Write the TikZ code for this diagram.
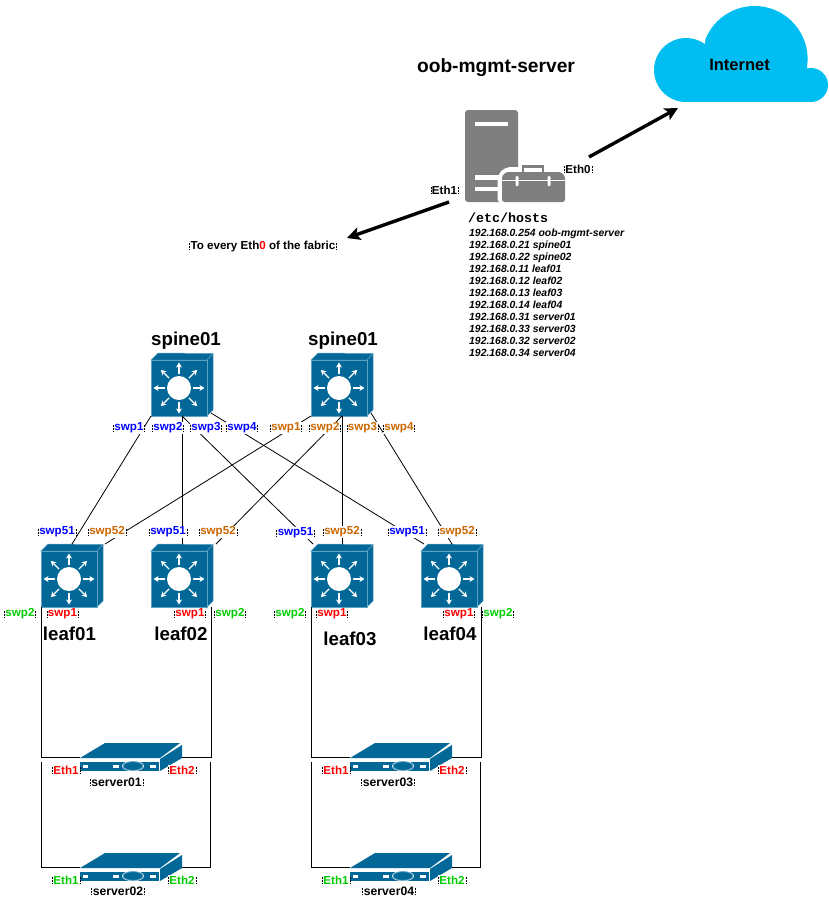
\documentclass[tikz,border=0pt]{standalone}
\usepackage{fontspec}
\setmainfont{Liberation Sans}
\newfontfamily\hostmono{Liberation Mono}
\usetikzlibrary{arrows.meta,calc}
\definecolor{netblue}{HTML}{036897}
\definecolor{edgeblue}{HTML}{5FA3C4}
\definecolor{cloudblue}{HTML}{00BEF2}
\definecolor{icongray}{HTML}{7F7F7F}
\definecolor{lblblue}{HTML}{0000FF}
\definecolor{lblorange}{HTML}{CC6600}
\definecolor{lblred}{HTML}{FF0000}
\definecolor{lblgreen}{HTML}{00CC00}
\tikzset{
  wire/.style={draw=black,line width=0.8pt},
  uplink/.style={draw=black,line width=3.4pt,-{Stealth[length=13pt,width=13pt,inset=3pt]}},
  hit/.style={inner sep=0pt,outer sep=0pt,draw=none},
  lbl/.style={font=\fontsize{11.6}{13}\selectfont\bfseries,fill=white,inner xsep=1pt,inner ysep=0.5pt,yshift=-1pt,
    append after command={
      ($(\tikzlastnode.west)+(0,-3)$) edge[draw=black,densely dotted,line width=.45pt] ($(\tikzlastnode.west)+(0,3)$)
      ($(\tikzlastnode.east)+(0,-3)$) edge[draw=black,densely dotted,line width=.45pt] ($(\tikzlastnode.east)+(0,3)$)}},
  bl/.style={lbl,text=lblblue},
  or/.style={lbl,text=lblorange},
  rd/.style={lbl,text=lblred},
  gr/.style={lbl,text=lblgreen},
  bk/.style={lbl,text=black},
  title/.style={font=\fontsize{18.7}{20}\selectfont\bfseries,text=black,inner sep=1pt,yshift=-1pt},
  srvname/.style={lbl,text=black,font=\fontsize{12.2}{14}\selectfont\bfseries},
}
\newcommand{\switchicon}[3]{% name, front-left x, front-top y
  \node[hit,minimum width=62pt,minimum height=63pt] (#1) at (#2+31,#3+24.5) {};
  \begin{scope}[shift={(#2,#3)}]
    \fill[netblue,draw=edgeblue,line width=.5pt] (0,0) -- (7,-7) -- (62,-6.5) -- (56,0) -- cycle;
    \fill[netblue,draw=edgeblue,line width=.5pt] (56,0) -- (62,-6.5) -- (62,50) -- (56,56) -- cycle;
    \fill[netblue,draw=edgeblue,line width=.6pt] (0,0) rectangle (56,56);
    \fill[white] (28,28) circle (12);
    \begin{scope}[shift={(28,28)}]
      \foreach \a in {0,45,...,315}
        \draw[white,line width=1.3pt,-{Stealth[length=5pt,width=6pt]}] (\a:14) -- (\a:25.5);
    \end{scope}
  \end{scope}
}
\newcommand{\servericon}[3]{% name, left x, top y
  \node[hit,minimum width=102pt,minimum height=28pt] (#1) at (#2+51,#3+14) {};
  \begin{scope}[shift={(#2,#3)}]
    \fill[netblue] (0,15) -- (25,0) -- (100,0) -- (80,15) -- cycle;
    \fill[netblue] (80,16) -- (102,2) -- (102,15) -- (80,28) -- cycle;
    \fill[netblue] (0,19) rectangle (79,28);
    \fill[white] (3,22) rectangle (8,25);
    \fill[white] (33,22) rectangle (39,25);
    \fill[white] (70,22) rectangle (76,25);
    \fill[white] (53,23) ellipse (11 and 5.2);
    \fill[netblue,draw=edgeblue,line width=.8pt] (53,23) ellipse (10 and 4.4);
  \end{scope}
}
\begin{document}
\begin{tikzpicture}[x=1pt,y=-1pt]
\useasboundingbox (0,0) rectangle (829,903);
% cloud
\fill[cloudblue] (686,70) circle (32);
\fill[cloudblue] (811,85) circle (17);
\fill[cloudblue] (686,70) rectangle (811,102);
\fill[cloudblue] (807,67) arc[start angle=8.7,end angle=-158,radius=53] -- (700,90) -- (807,90) -- cycle;
\node[hit,minimum width=174pt,minimum height=96pt] (inet) at (741,54) {};
\node[font=\fontsize{16.5}{18}\selectfont\bfseries,inner sep=0] at (739.5,65) {Internet};
% oob server icon
\node[hit,minimum width=100pt,minimum height=92pt] (oob) at (515,156) {};
\fill[icongray,rounded corners=3pt] (465,202) -- (465,110) -- (518,110) -- (518,202) -- cycle;
\fill[white] (475,122) rectangle (508,126);
\fill[white] (475,175) rectangle (500,180);
\fill[white] (475,187) rectangle (500,191);
\fill[white,rounded corners=6pt] (497.5,204) -- (497.5,175) -- (505,167) -- (570,167) -- (570,204) -- cycle;
\draw[icongray,line width=2.5pt] (523,172) -- (523,166.5) -- (543,166.5) -- (543,172);
\fill[icongray,rounded corners=2.5pt] (502,202) -- (502,176) -- (506,172) -- (561,172) -- (565,176) -- (565,202) -- cycle;
\fill[white] (502,179.5) rectangle (565,181);
\fill[white,rounded corners=1pt] (515.5,176) rectangle (518.5,186);
\fill[white,rounded corners=1pt] (547.5,176) rectangle (550.5,186);
% coordinates of free connector ends
\coordinate (oobout) at (589,157);
\coordinate (inetin) at (678,108);
\coordinate (oobfab) at (449,202);
\coordinate (fabric) at (347,238);
\draw[uplink] (oobout) -- (inetin);
\draw[uplink] (oobfab) -- (fabric);
% switches
\switchicon{sp1}{151}{360}
\switchicon{sp2}{311}{360}
\switchicon{lf1}{41}{551}
\switchicon{lf2}{151}{551}
\switchicon{lf3}{311}{551}
\switchicon{lf4}{421}{551}
% servers
\servericon{sv1}{80}{743}
\servericon{sv2}{80}{853}
\servericon{sv3}{350}{743}
\servericon{sv4}{350}{853}
% fabric links
\draw[wire] (sp1.south west) -- (lf1.north);
\draw[wire] (sp1.south) -- (lf2.north);
\draw[wire] (sp1.south) -- ([xshift=2]lf3.north west);
\draw[wire] ([shift={(-2,-3)}]sp1.south east) -- ([xshift=3]lf4.north west);
\draw[wire] (sp2.south west) -- ([xshift=2]lf1.north east);
\draw[wire] (sp2.south) -- ([xshift=3]lf2.north east);
\draw[wire] (sp2.south) -- (lf3.north);
\draw[wire] ([shift={(-2,-3)}]sp2.south east) -- (lf4.north);
% server links
\coordinate (sv1l) at (41,762);
\coordinate (sv1r) at (210,762);
\coordinate (sv3l) at (311,762);
\coordinate (sv3r) at (480,762);
\draw[wire] (lf1.south west) |- (sv1.west);
\draw[wire] ([xshift=-2]lf2.south east) |- (sv1.east);
\draw[wire] (lf3.south west) |- (sv3.west);
\draw[wire] ([xshift=-2]lf4.south east) |- (sv3.east);
\draw[wire] (sv1l) |- (sv2.west);
\draw[wire] (sv1r) |- (sv2.east);
\draw[wire] (sv3l) |- (sv4.west);
\draw[wire] (sv3r) |- (sv4.east);
% titles
\node[font=\fontsize{19.2}{21}\selectfont\bfseries,inner sep=1pt] at (496,67.5) {oob-mgmt-server};
\node[title] at (186,340) {spine01};
\node[title] at (343,340) {spine01};
\node[title] at (69.5,633) {leaf01};
\node[title] at (181,633) {leaf02};
\node[title] at (350,638) {leaf03};
\node[title] at (450,633) {leaf04};
% oob labels
\node[bk] at (444.5,189) {Eth1};
\node[bk] at (578,168) {Eth0};
\node[bk] at (263,245) {To every Eth\textcolor{lblred}{0} of the fabric};
\node[anchor=west,inner sep=0,font=\hostmono\bfseries\fontsize{13.3}{15}\selectfont] at (468,218) {/etc/hosts};
\node[anchor=north west,inner sep=0,align=left,font=\fontsize{10.4}{12}\selectfont\bfseries\itshape] at (469,229) {192.168.0.254 oob-mgmt-server\\192.168.0.21 spine01\\192.168.0.22 spine02\\192.168.0.11 leaf01\\192.168.0.12 leaf02\\192.168.0.13 leaf03\\192.168.0.14 leaf04\\192.168.0.31 server01\\192.168.0.33 server03\\192.168.0.32 server02\\192.168.0.34 server04};
% spine ports
\node[bl] at (129,427) {swp1};
\node[bl] at (168,427) {swp2};
\node[bl] at (206,427) {swp3};
\node[bl] at (242,427) {swp4};
\node[or] at (286,427) {swp1};
\node[or] at (325,427) {swp2};
\node[or] at (362.5,427) {swp3};
\node[or] at (399,427) {swp4};
% leaf uplink ports
\node[bl] at (57,531) {swp51};
\node[or] at (107,531) {swp52};
\node[bl] at (168,531) {swp51};
\node[or] at (218,531) {swp52};
\node[bl] at (295.5,532) {swp51};
\node[or] at (342,531) {swp52};
\node[bl] at (407,531) {swp51};
\node[or] at (457,531) {swp52};
% leaf downlink ports
\node[gr] at (20,613) {swp2};
\node[rd] at (62.5,613) {swp1};
\node[rd] at (190,613) {swp1};
\node[gr] at (230,613) {swp2};
\node[gr] at (290,613) {swp2};
\node[rd] at (332,613) {swp1};
\node[rd] at (459,613) {swp1};
\node[gr] at (498,613) {swp2};
% server ports
\node[rd] at (66,769) {Eth1};
\node[rd] at (182,769) {Eth2};
\node[gr] at (66,879) {Eth1};
\node[gr] at (182,879) {Eth2};
\node[rd] at (336,769) {Eth1};
\node[rd] at (452,769) {Eth2};
\node[gr] at (336,879) {Eth1};
\node[gr] at (452,879) {Eth2};
\node[srvname] at (116.5,781) {server01};
\node[srvname] at (118,890) {server02};
\node[srvname] at (388,781) {server03};
\node[srvname] at (389,890) {server04};
\end{tikzpicture}
\end{document}
